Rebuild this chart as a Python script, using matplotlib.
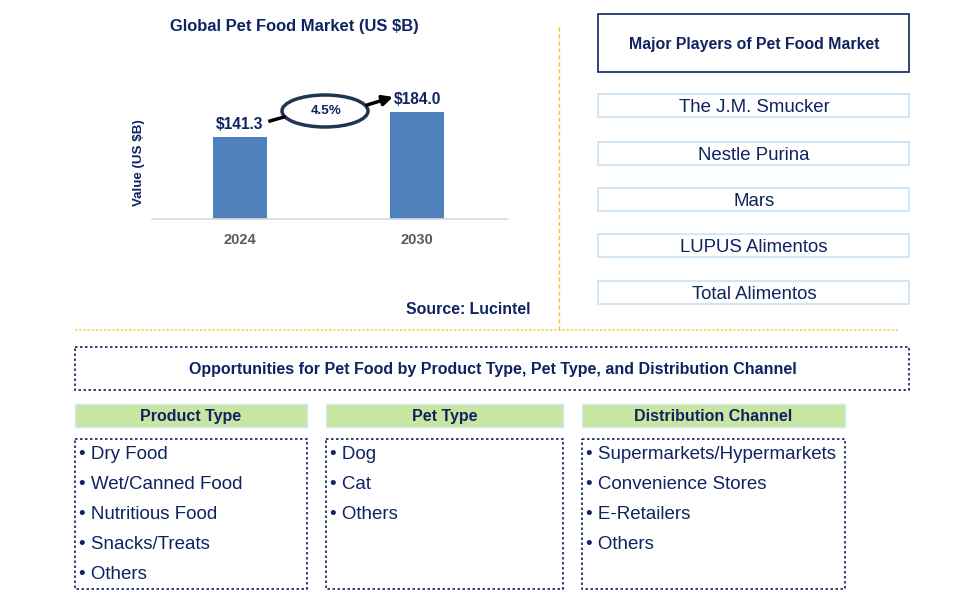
import matplotlib.pyplot as plt
from matplotlib.patches import Rectangle, Ellipse

plt.rcParams['font.family'] = ['Liberation Sans', 'DejaVu Sans']

years = ["2024", "2030"]
values = [141.3, 184.0]
cagr = "4.5%"
players = ["The J.M. Smucker", "Nestle Purina", "Mars", "LUPUS Alimentos", "Total Alimentos"]
segment_titles = ["Product Type", "Pet Type", "Distribution Channel"]
segment_items = [
    ["Dry Food", "Wet/Canned Food", "Nutritious Food", "Snacks/Treats", "Others"],
    ["Dog", "Cat", "Others"],
    ["Supermarkets/Hypermarkets", "Convenience Stores", "E-Retailers", "Others"],
]

NAVY = "#0f2361"
GOLD = "#f5c231"
W, H = 974, 614

fig = plt.figure(figsize=(9.74, 6.14), dpi=100)

# background canvas in pixel coords
bg = fig.add_axes([0, 0, 1, 1])
bg.set_xlim(0, W)
bg.set_ylim(H, 0)
bg.axis("off")


def label(x, yc, s, fs, **kw):
    # place text so its capital letters are centred on yc
    bg.text(x, yc + 0.5 * 0.716 * fs * 100 / 72, s, va="baseline", fontsize=fs,
            color=NAVY, **kw)


# bar chart
ax = fig.add_axes([152 / W, (H - 219) / H, 355 / W, 159 / H])
x = range(len(years))
ax.bar(x, values, width=0.31, color="#4f81bd")
ax.set_xlim(-0.497, 1.508)
ax.set_ylim(0, 273.4)
ax.set_xticks(list(x))
ax.set_xticklabels(years, fontsize=10.5, fontweight="bold", color="#595959")
ax.tick_params(axis="x", length=0, pad=10)
ax.set_yticks([])
for s in ["top", "right", "left"]:
    ax.spines[s].set_visible(False)
ax.spines["bottom"].set_color("#d9d9d9")
ax.spines["bottom"].set_linewidth(1.2)
ax.patch.set_alpha(0)
for i, v in enumerate(values):
    ax.text(i, v + 8, f"${v:.1f}", ha="center", va="bottom", fontsize=11.2,
            fontweight="bold", color=NAVY)

bg.text(294, 27, "Global Pet Food Market (US $B)", ha="center", va="center",
        fontsize=11.9, fontweight="bold", color=NAVY)
bg.text(139, 163, "Value (US $B)", ha="center", va="center", rotation=90,
        fontsize=9.6, fontweight="bold", color=NAVY)

# CAGR ellipse and arrows
bg.add_patch(Ellipse((325, 111), 86, 32, fill=False, edgecolor="#1f3550", lw=2.5))
bg.text(326, 111, cagr, ha="center", va="center", fontsize=9.6, fontweight="bold", color=NAVY)
bg.plot([270, 284], [121, 117], color="black", lw=2.5)
bg.annotate("", xy=(393, 97), xytext=(367, 105),
            arrowprops=dict(arrowstyle="-|>", color="black", lw=2.5, mutation_scale=15,
                            shrinkA=0, shrinkB=0))

bg.text(468, 310, "Source: Lucintel", ha="center", va="center", fontsize=11.4,
        fontweight="bold", color=NAVY)

# separators
bg.plot([559, 559], [27, 330], color=GOLD, lw=1, ls=(0, (3, 2)))
bg.plot([75, 898], [330, 330], color=GOLD, lw=1.5, ls=(0, (1, 1)), alpha=0.7)

# major players
bg.add_patch(Rectangle((598, 14), 311, 58, fill=False, edgecolor=NAVY, lw=1.2))
label(754, 43, "Major Players of Pet Food Market", 11.4, ha="center", fontweight="bold")
player_y = [105, 153, 199, 245, 292]
for name, yc in zip(players, player_y):
    bg.add_patch(Rectangle((598, yc - 11.5), 311, 23, fill=False, edgecolor="#c9e2f3", lw=1.2))
    label(754, yc, name, 13.4, ha="center")

# opportunities
bg.add_patch(Rectangle((75, 347), 834, 43, fill=False, edgecolor=NAVY, lw=1.2, ls=(0, (1.5, 1.5))))
label(493, 368, "Opportunities for Pet Food by Product Type, Pet Type, and Distribution Channel",
      11.5, ha="center", fontweight="bold")

cols = [(75, 307), (326, 563), (582, 845)]
for (x0, x1), title, items in zip(cols, segment_titles, segment_items):
    bg.add_patch(Rectangle((x0, 404), x1 - x0, 23, facecolor="#c6e6a1", edgecolor="#d6eaf5", lw=1))
    label((x0 + x1) / 2, 415, title, 11.5, ha="center", fontweight="bold")
    bg.add_patch(Rectangle((x0, 439), x1 - x0, 150, fill=False, edgecolor=NAVY, lw=1.2,
                           ls=(0, (1.5, 1.5))))
    for k, item in enumerate(items):
        label(x0 + 4, 452.5 + 30 * k, "\u2022 " + item, 13.5, ha="left")

fig.savefig("out.png", dpi=100)
